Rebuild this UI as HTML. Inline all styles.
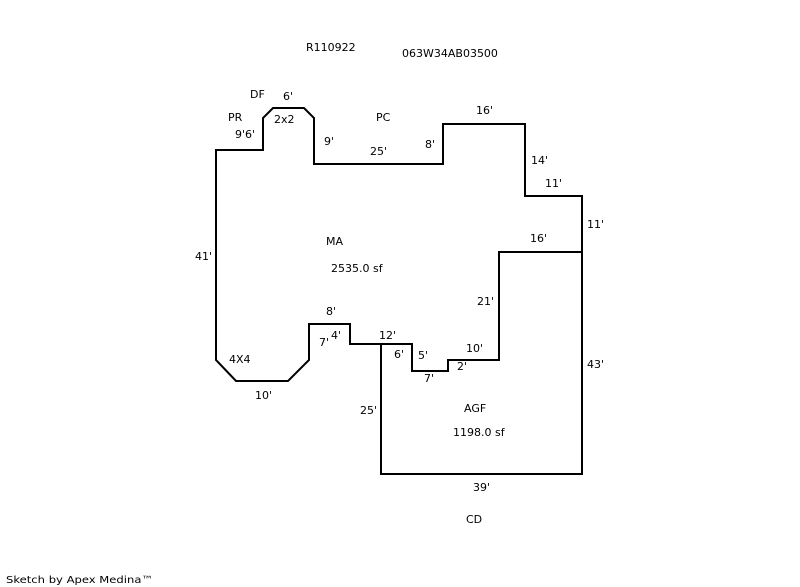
<!DOCTYPE html>
<html>
<head>
<meta charset="utf-8">
<style>
  html, body { margin: 0; padding: 0; background: #fff; }
  body { width: 800px; height: 587px; overflow: hidden; }
  svg { display: block; }
  text { font-family: "DejaVu Sans", "Liberation Sans", sans-serif; font-size: 11px; fill: #000; }
</style>
</head>
<body>
<svg width="800" height="587" viewBox="0 0 800 587" xmlns="http://www.w3.org/2000/svg">
  <g fill="none" stroke="#000" stroke-width="2" stroke-linejoin="miter" stroke-linecap="square">
    <polygon points="216,150 263,150 263,118 273,108 304,108 314,118 314,164 443,164 443,124 525,124 525,196 582,196 582,252 499,252 499,360 448,360 448,371 412,371 412,344 350,344 350,324 309,324 309,360 288,381 236,381 216,360"/>
    <polyline points="381,344 381,474 582,474 582,252"/>
  </g>

  <text x="306" y="51">R110922</text>
  <text x="402" y="57">063W34AB03500</text>

  <text x="250" y="98">DF</text>
  <text x="283" y="100">6'</text>
  <text x="228" y="121">PR</text>
  <text x="274" y="123">2x2</text>
  <text x="376" y="121">PC</text>
  <text x="235" y="138">9'6'</text>
  <text x="324" y="145">9'</text>
  <text x="370" y="155">25'</text>
  <text x="425" y="148">8'</text>

  <text x="476" y="114">16'</text>
  <text x="531" y="164">14'</text>
  <text x="545" y="187">11'</text>
  <text x="587" y="228">11'</text>
  <text x="530" y="242">16'</text>

  <text x="195" y="260">41'</text>
  <text x="326" y="245">MA</text>
  <text x="331" y="272">2535.0 sf</text>
  <text x="477" y="305">21'</text>

  <text x="326" y="315">8'</text>
  <text x="319" y="346">7'</text>
  <text x="331" y="339">4'</text>
  <text x="379" y="339">12'</text>
  <text x="394" y="358">6'</text>
  <text x="418" y="359">5'</text>
  <text x="466" y="352">10'</text>
  <text x="457" y="370">2'</text>
  <text x="424" y="382">7'</text>
  <text x="229" y="363">4X4</text>
  <text x="255" y="399">10'</text>

  <text x="360" y="414">25'</text>
  <text x="464" y="412">AGF</text>
  <text x="453" y="436">1198.0 sf</text>
  <text x="587" y="368">43'</text>
  <text x="473" y="491">39'</text>
  <text x="466" y="523">CD</text>

  <text x="6" y="583" style="font-size:10px" textLength="147" lengthAdjust="spacingAndGlyphs">Sketch by Apex Medina™</text>
</svg>
</body>
</html>
